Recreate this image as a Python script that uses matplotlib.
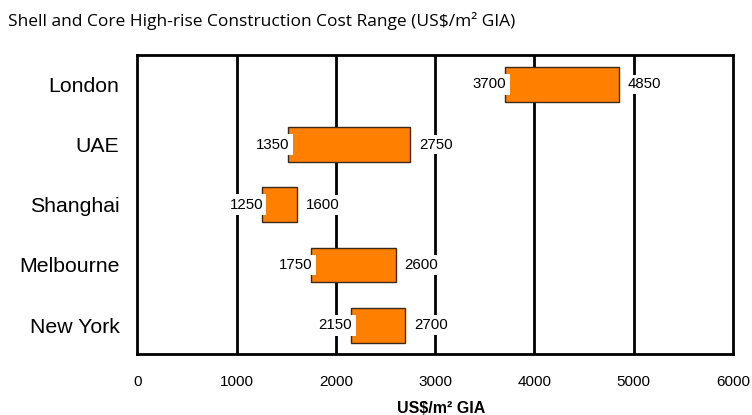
import matplotlib
matplotlib.use("Agg")
import matplotlib.pyplot as plt

cities = ["London", "UAE", "Shanghai", "Melbourne", "New York"]
# bar extents as drawn in the picture
bar_low = [3700, 1520, 1250, 1750, 2150]
bar_high = [4850, 2750, 1610, 2600, 2700]
# value labels as printed
label_low = [3700, 1350, 1250, 1750, 2150]
label_high = [4850, 2750, 1600, 2600, 2700]
xticks = [0, 1000, 2000, 3000, 4000, 5000, 6000]

fig = plt.figure(figsize=(7.52, 4.15), dpi=100)
ax = fig.add_axes([0.1828, 0.1470, 0.7919, 0.7205])

for x in xticks[1:-1]:
    ax.axvline(x, color="black", lw=2, zorder=1)

ypos = list(range(len(cities)))
ax.barh(ypos, [h - l for l, h in zip(bar_low, bar_high)], left=bar_low, height=0.58,
        color="#FF7F00", edgecolor="#3a2a1a", lw=1, zorder=2)

for y, bl, bh, ll, lh in zip(ypos, bar_low, bar_high, label_low, label_high):
    ax.text(bl + 15, y, f"{ll}", ha="right", va="center", fontsize=10.8,
            family="Liberation Sans", zorder=3,
            bbox=dict(facecolor="white", edgecolor="none", pad=2.5))
    ax.text(bh + 90, y, f"{lh}", ha="left", va="center", fontsize=10.8,
            family="Liberation Sans", zorder=3,
            bbox=dict(facecolor="white", edgecolor="none", pad=2))

ax.set_xlim(0, 6000)
ax.set_ylim(4.48, -0.49)
ax.set_xticks(xticks)
ax.set_xticklabels([str(t) for t in xticks], family="Liberation Sans", fontsize=11)
ax.set_yticks(ypos)
ax.set_yticklabels(cities, family="Liberation Sans", fontsize=15.3)
ax.tick_params(axis="x", length=0, pad=15)
ax.tick_params(axis="y", length=0, pad=13)
for s in ax.spines.values():
    s.set_linewidth(2)

fig.text(441 / 752, 1 - 408 / 415, "US$/m² GIA", family="Liberation Sans", fontsize=11.5,
         fontweight="bold", ha="center", va="center")

fig.text(8 / 752, 1 - 21 / 415, "Shell and Core High-rise Construction Cost Range (US$/m² GIA)",
         family="Open Sans", fontsize=12.5, ha="left", va="center")

fig.savefig("out.png", dpi=100)
